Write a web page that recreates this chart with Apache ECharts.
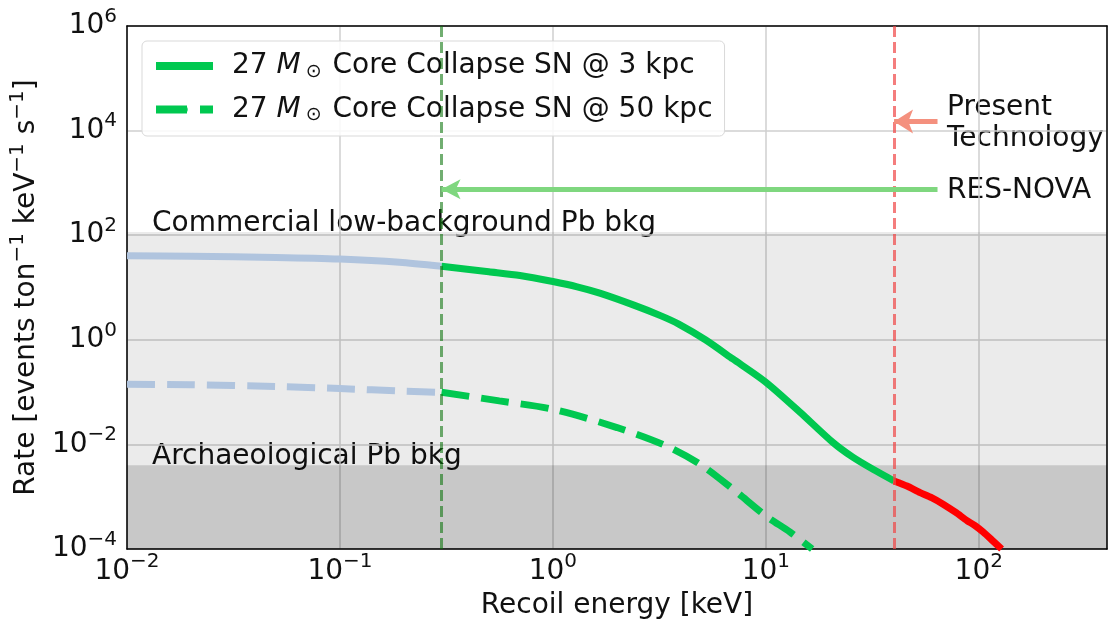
<!DOCTYPE html>
<html>
<head>
<meta charset="utf-8">
<script src="https://cdn.jsdelivr.net/npm/echarts@6/dist/echarts.min.js"></script>
<style>
  html, body { margin: 0; padding: 0; background: #fff; }
  #chart { width: 1108px; height: 620px; }
</style>
</head>
<body>
<div id="chart"></div>
<script>
// 3 kpc curve, split into the three colours of the reference
const blueSolidX = [0.01, 0.02, 0.05, 0.1, 0.19, 0.3]
const blueSolidY = [40.5, 39.5, 37.5, 35, 30.5, 25.5]
const greenSolidX = [0.3, 0.5, 0.7, 1, 1.3, 1.66, 2.4, 3.2, 3.9, 5.2, 7, 10, 14.5, 20.6, 25.6, 32, 40]
const greenSolidY = [25.5, 20, 17, 13, 10.3, 7.8, 4.6, 2.9, 2.0, 1.0, 0.43, 0.155, 0.041, 0.011, 0.0057, 0.0033, 0.0020]
const redX = [40, 46, 53, 60, 68, 78, 88, 96, 105, 116, 128]
const redY = [2.0e-3, 1.6e-3, 1.2e-3, 9.6e-4, 7.2e-4, 5.0e-4, 3.5e-4, 2.8e-4, 2.1e-4, 1.45e-4, 1.0e-4]

// 50 kpc curve
const blueDashX = [0.01, 0.02, 0.05, 0.1, 0.2, 0.3]
const blueDashY = [0.142, 0.138, 0.128, 0.117, 0.104, 0.099]
const greenDashX = [0.3, 0.56, 1, 2, 3.4, 4.9, 7, 10, 13, 16.5]
const greenDashY = [0.099, 0.068, 0.047, 0.021, 0.0094, 0.0042, 0.0014, 4.3e-4, 2.1e-4, 1.0e-4]

// background levels and thresholds
const commercialBkg = 115
const archaeoBkg = 4.0e-3
const resNovaThreshold = 0.3
const presentThreshold = 40
const resNovaArrowY = 760
const presentArrowY = 1.5e4
const arrowTailX = 64

const zip = (xs, ys) => xs.map((x, i) => [x, ys[i]])

const FONT = 'DejaVu Sans'
const supRich = {
  b: { fontFamily: FONT, fontSize: 28, color: '#111' },
  s: { fontFamily: FONT, fontSize: 20, color: '#111', padding: [0, 0, 19, 0] }
}
function powLabel (v) {
  const e = Math.round(Math.log10(v))
  if (Math.abs(Math.log10(v) - e) > 1e-6) return ''
  return '{b|10}{s|' + String(e).replace('-', '\u2212') + '}'
}

// frame-only axes for the top and right edges
const frameX = {
  type: 'log', logBase: 10, min: 0.01, max: 400, position: 'top',
  axisLine: { show: true, lineStyle: { color: '#000', width: 1.5 } },
  axisTick: { show: false }, axisLabel: { show: false }, splitLine: { show: false }
}
const frameY = {
  type: 'log', logBase: 10, min: 1e-4, max: 1e6, position: 'right',
  axisLine: { show: true, lineStyle: { color: '#000', width: 1.5 } },
  axisTick: { show: false }, axisLabel: { show: false }, splitLine: { show: false }
}

const chart = echarts.init(document.getElementById('chart'))

const option = {
  animation: false,
  backgroundColor: '#fff',
  grid: { left: 127, right: 1, top: 26, bottom: 71, outerBoundsMode: 'none', containLabel: false },
  legend: {
    left: 142, top: 41,
    orient: 'vertical',
    itemWidth: 57, itemHeight: 8, itemGap: 14,
    padding: [11, 12, 11, 10],
    backgroundColor: 'rgba(255,255,255,0.85)',
    borderColor: '#d9d9d9', borderWidth: 1, borderRadius: 5,
    textStyle: {
      fontFamily: FONT, fontSize: 28, color: '#111',
      rich: {
        p: { fontFamily: FONT, fontSize: 28, color: '#111', padding: [0, 0, 0, 14] },
        n: { fontFamily: FONT, fontSize: 28, color: '#111' },
        i: { fontFamily: FONT, fontSize: 28, color: '#111', fontStyle: 'italic' },
        o: { fontFamily: FONT, fontSize: 19, color: '#111', padding: [12, 2, 0, 5] }
      }
    },
    data: [
      { name: '3 kpc', lineStyle: { width: 8, type: 'solid', color: '#00c850' } },
      { name: '50 kpc', lineStyle: { width: 8, type: [31, 13], color: '#00c850' } }
    ],
    formatter: function (name) {
      return '{p|27 }{i|M}{o|\u2299}{n| Core Collapse SN @ ' + name + '}'
    }
  },
  xAxis: [{
    type: 'log', logBase: 10,
    min: 0.01, max: 400,
    name: 'Recoil energy [keV]',
    nameLocation: 'middle', nameGap: 43,
    nameTextStyle: { fontFamily: FONT, fontSize: 28, color: '#111' },
    axisLine: { show: true, lineStyle: { color: '#000', width: 1.5 } },
    axisTick: { show: false },
    minorTick: { show: false },
    axisLabel: { formatter: powLabel, rich: supRich, margin: 3, showMaxLabel: false },
    splitLine: { show: true, lineStyle: { color: '#cfcfcf', width: 1.5 } }
  }, frameX],
  yAxis: [{
    type: 'log', logBase: 10,
    min: 1e-4, max: 1e6,
    interval: 2,
    name: 'Rate [events ton{s|\u22121} keV{s|\u22121} s{s|\u22121}]',
    nameLocation: 'middle', nameGap: 80, nameRotate: 90,
    nameTextStyle: {
      fontFamily: FONT, fontSize: 28, color: '#111',
      rich: { s: { fontFamily: FONT, fontSize: 20, color: '#111', padding: [0, 0, 19, 0] } }
    },
    axisLine: { show: true, lineStyle: { color: '#000', width: 1.5 } },
    axisTick: { show: false },
    axisLabel: { formatter: powLabel, rich: supRich, margin: 10 },
    splitLine: { show: true, lineStyle: { color: '#cfcfcf', width: 1.5 } }
  }, frameY],
  series: [
    {
      name: 'bkg', type: 'line', data: [], silent: true,
      markArea: {
        silent: true,
        data: [
          [{ yAxis: archaeoBkg, itemStyle: { color: 'rgba(0,0,0,0.078)' } }, { yAxis: commercialBkg }],
          [{ yAxis: 1e-4, itemStyle: { color: 'rgba(0,0,0,0.216)' } }, { yAxis: archaeoBkg }]
        ]
      },
      markLine: {
        silent: true, symbol: 'none', label: { show: false },
        data: [
          { xAxis: resNovaThreshold, lineStyle: { color: 'rgba(10,115,10,0.58)', width: 3, type: [11, 5] } },
          { xAxis: presentThreshold, lineStyle: { color: 'rgba(240,70,70,0.7)', width: 3, type: [11, 5] } },
          [
            { coord: [arrowTailX, resNovaArrowY], symbol: 'none', lineStyle: { color: '#7fd77f', width: 5, type: 'solid' } },
            { coord: [resNovaThreshold, resNovaArrowY], symbol: 'arrow', symbolSize: [15, 19] }
          ],
          [
            { coord: [arrowTailX, presentArrowY], symbol: 'none', lineStyle: { color: '#f4907e', width: 5, type: 'solid' } },
            { coord: [presentThreshold, presentArrowY], symbol: 'arrow', symbolSize: [18, 19] }
          ]
        ]
      }
    },
    {
      name: 'blue3', type: 'line', data: zip(blueSolidX, blueSolidY), showSymbol: false, symbol: 'none', smooth: 0.25,
      lineStyle: { color: '#b0c4de', width: 7 }
    },
    {
      name: '3 kpc', type: 'line', data: zip(greenSolidX, greenSolidY), showSymbol: false, symbol: 'none', smooth: 0.25,
      color: '#00c850', lineStyle: { color: '#00c850', width: 7 }
    },
    {
      name: 'red3', type: 'line', data: zip(redX, redY), showSymbol: false, symbol: 'none', smooth: 0.2,
      lineStyle: { color: '#ff0000', width: 7 }
    },
    {
      name: 'blue50', type: 'line', data: zip(blueDashX, blueDashY), showSymbol: false, symbol: 'none', smooth: 0.25,
      lineStyle: { color: '#b0c4de', width: 7, type: [28, 12] }
    },
    {
      name: '50 kpc', type: 'line', data: zip(greenDashX, greenDashY), showSymbol: false, symbol: 'none', smooth: 0.3,
      color: '#00c850', lineStyle: { color: '#00c850', width: 7, type: [28, 12] }
    }
  ],
  graphic: [
    { type: 'text', left: 152, top: 210, style: { text: 'Commercial low-background Pb bkg', font: '28px "DejaVu Sans"', fill: '#111' } },
    { type: 'text', left: 152, top: 443, style: { text: 'Archaeological Pb bkg', font: '28px "DejaVu Sans"', fill: '#111' } },
    { type: 'text', left: 947, top: 94, style: { text: 'Present', font: '28px "DejaVu Sans"', fill: '#111' } },
    { type: 'text', left: 947, top: 125, style: { text: 'Technology', font: '28px "DejaVu Sans"', fill: '#111' } },
    { type: 'text', left: 947, top: 177, style: { text: 'RES-NOVA', font: '28px "DejaVu Sans"', fill: '#111' } }
  ]
}

chart.setOption(option)
window.addEventListener('resize', () => chart.resize())
</script>
</body>
</html>
